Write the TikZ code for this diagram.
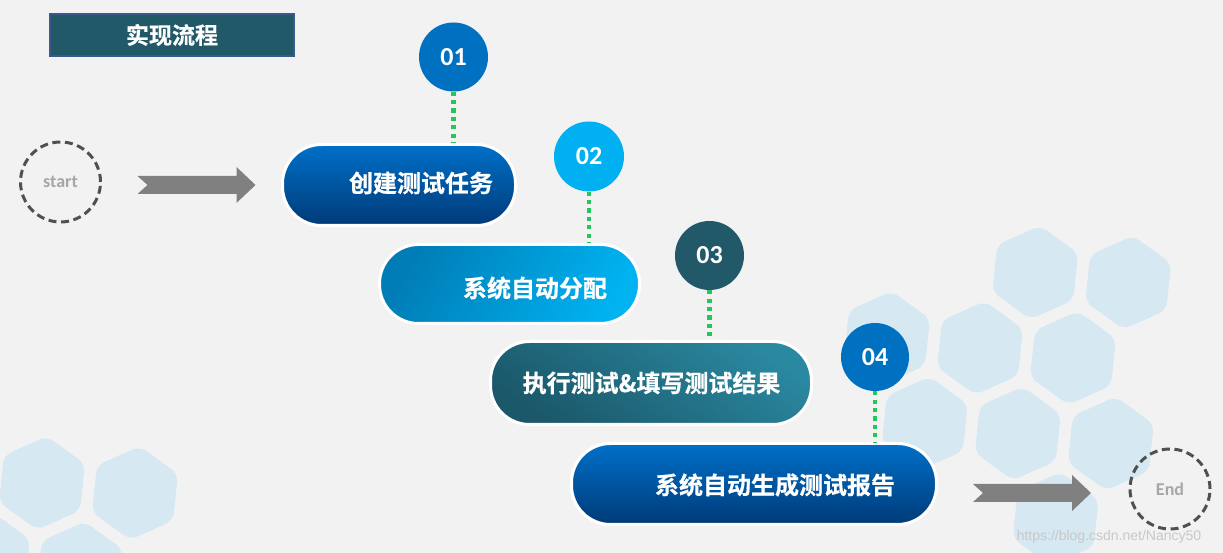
\documentclass[tikz,border=0pt]{standalone}
\usepackage{fontspec}
\setmainfont{Carlito}
\newfontfamily\cjk{Noto Sans CJK SC}[BoldFont={Noto Sans CJK SC Bold}, BoldFeatures={FakeBold=0.6}]
\newfontfamily\wmfont{Liberation Sans}
\definecolor{bg}{RGB}{242,242,242}
\definecolor{hexfill}{RGB}{214,232,241}
\definecolor{titlefill}{RGB}{34,89,104}
\definecolor{titleborder}{RGB}{59,89,140}
\definecolor{cblue}{RGB}{0,112,192}
\definecolor{clight}{RGB}{0,176,240}
\definecolor{cteal}{RGB}{33,89,104}
\definecolor{dotgreen}{RGB}{34,200,90}
\definecolor{arrowgray}{RGB}{128,128,128}
\definecolor{termgray}{RGB}{80,80,80}
\definecolor{termtext}{RGB}{166,166,166}
\definecolor{pAtop}{RGB}{0,112,200}
\definecolor{pAbot}{RGB}{0,58,120}
\definecolor{pBdark}{RGB}{0,125,182}
\definecolor{pBlight}{RGB}{0,178,240}
\definecolor{pCdark}{RGB}{27,88,106}
\definecolor{pClight}{RGB}{42,136,160}
\definecolor{wmgray}{RGB}{200,200,200}
\begin{document}
\begin{tikzpicture}[x=1pt,y=1pt,
  pill/.style={draw=white, line width=3pt, rounded corners=39pt, inner sep=0pt},
  ptext/.style={text=white, font=\cjk\bfseries\fontsize{24}{28}\selectfont, inner sep=0pt},
  numcircle/.style={circle, minimum size=68pt, inner sep=0pt, text=white, font=\bfseries\fontsize{26}{30}\selectfont},
  dotline/.style={draw=dotgreen, line width=4.2pt, dash pattern=on 4.2pt off 4.2pt},
  endcircle/.style={circle, draw=termgray, line width=3pt, dash pattern=on 8pt off 4.6pt, minimum size=80pt, inner sep=0pt, text=termtext, font=\bfseries\fontsize{18}{22}\selectfont},
  hexa/.pic={\fill[hexfill, rounded corners=8pt] (24:47) -- (84:47) -- (144:47) -- (204:47) -- (264:47) -- (324:47) -- cycle;},
  notched/.pic={\fill[arrowgray] (0,9) -- (99,9) -- (99,18) -- (118,0) -- (99,-18) -- (99,-9) -- (0,-9) -- (10,0) -- cycle;}
  ]
\useasboundingbox (0,0) rectangle (1223,553);
\fill[bg] (0,0) rectangle (1223,553);
% background hexagons
\foreach \hx/\hy in {1035.2/280.5, 1128.2/270.5, 887/215, 980/205, 1073/195, 924.8/129.5, 1017.8/119.5, 1110.8/109.5, 1055.6/34, 42/70, 135/60, 79.8/-15.5, -13.2/-5.5}
  \pic at (\hx,\hy) {hexa};
% watermark
\node[text=wmgray, font=\wmfont\fontsize{14}{16}\selectfont, inner sep=0pt] (wm) at (1109,16) {https://blog.csdn.net/Nancy50};
% title
\node[draw=titleborder, line width=2pt, fill=titlefill, minimum width=244pt, minimum height=42pt, inner sep=0pt, text=white, font=\cjk\bfseries\fontsize{23}{28}\selectfont] (title) at (172,518) {实现流程};
% number circles
\node[numcircle, fill=cblue, minimum size=69pt] (c1) at (453.5,496) {01};
\node[numcircle, fill=clight, minimum size=70pt] (c2) at (589,396.5) {02};
\node[numcircle, fill=cteal, minimum size=69pt] (c3) at (709.5,297.5) {03};
\node[numcircle, fill=cblue] (c4) at (875,196) {04};
% pills
\node[pill, top color=pAtop, bottom color=pAbot, minimum width=233pt, minimum height=81pt] (p1) at (399,368) {};
\node[pill, left color=pBdark, right color=pBlight, shading angle=60, minimum width=260pt, minimum height=79pt] (p2) at (509.5,269) {};
\node[pill, top color=pClight, bottom color=pCdark, shading angle=-35, minimum width=321pt, minimum height=83pt] (p3) at (651,170) {};
\node[pill, top color=pAtop, bottom color=pAbot, minimum width=365pt, minimum height=81pt] (p4) at (754,69) {};
% pill texts
\node[ptext] (t1) at (421,370) {创建测试任务};
\node[ptext] (t2) at (535,265) {系统自动分配};
\node[ptext] (t3) at (651.5,170) {执行测试\&填写测试结果};
\node[ptext] (t4) at (775,68) {系统自动生成测试报告};
% dotted connectors
\draw[dotline] (c1.south) -- (c1.south |- p1.north);
\draw[dotline] (c2.south) -- (c2.south |- p2.north);
\draw[dotline] (c3.south) -- (c3.south |- p3.north);
\draw[dotline] (c4.south) -- (c4.south |- p4.north);
% start / end
\node[endcircle] (start) at (60.5,371) {start};
\node[endcircle] (end) at (1170,64) {End};
% block arrows
\pic (arr1) at ([xshift=35.5pt,yshift=-3pt]start.east) {notched};
\pic (arr2) at ([xshift=-197pt,yshift=-4pt]end.center) {notched};
\end{tikzpicture}
\end{document}
